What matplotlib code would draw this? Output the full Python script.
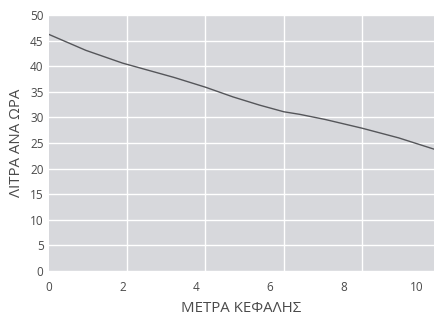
import matplotlib
matplotlib.use("Agg")
import matplotlib.pyplot as plt

head_m = [0, 1, 2, 3, 3.4, 4.25, 5, 5.72, 6.38, 6.81, 7.5, 8.5, 9.5, 10.46]
litres_h = [46.2, 43.1, 40.6, 38.6, 37.8, 35.9, 34.0, 32.4, 31.1, 30.6, 29.6, 27.9, 26.0, 23.8]
x_ticks = [0, 2, 4, 6, 8, 10]
y_ticks = [0, 5, 10, 15, 20, 25, 30, 35, 40, 45, 50]
x_grid = [2.125, 4.25, 6.375, 8.5]

plt.rcParams['font.family'] = ['Open Sans', 'DejaVu Sans']

fig = plt.figure(figsize=(4.34, 3.16), dpi=100)
ax = fig.add_axes([49/434, 1 - 271/316, 1 - 49/434, (271 - 15)/316])
ax.set_facecolor('#d7d8dc')
for s in ax.spines.values():
    s.set_visible(False)

for g in y_ticks:
    ax.axhline(g, color='white', lw=1.0, zorder=1)
for g in x_grid:
    ax.axvline(g, color='white', lw=1.0, zorder=1)

ax.plot(head_m, litres_h, color='#55565a', lw=1.0, zorder=3)

ax.set_xlim(0, 10.46)
ax.set_ylim(0, 50)
ax.set_xticks(x_ticks)
ax.set_yticks(y_ticks)
ax.tick_params(axis='both', length=0, labelsize=8.5, colors='#4a4a4a')
ax.tick_params(axis='x', pad=7)
ax.tick_params(axis='y', pad=4)
ax.set_xlabel('ΜΕΤΡΑ ΚΕΦΑΛΗΣ', fontsize=10.8, color='#4a4a4a', labelpad=5)
ax.set_ylabel('ΛΙΤΡΑ ΑΝΑ ΩΡΑ', fontsize=10.8, color='#4a4a4a', labelpad=4)

fig.savefig('out.png', dpi=100)
